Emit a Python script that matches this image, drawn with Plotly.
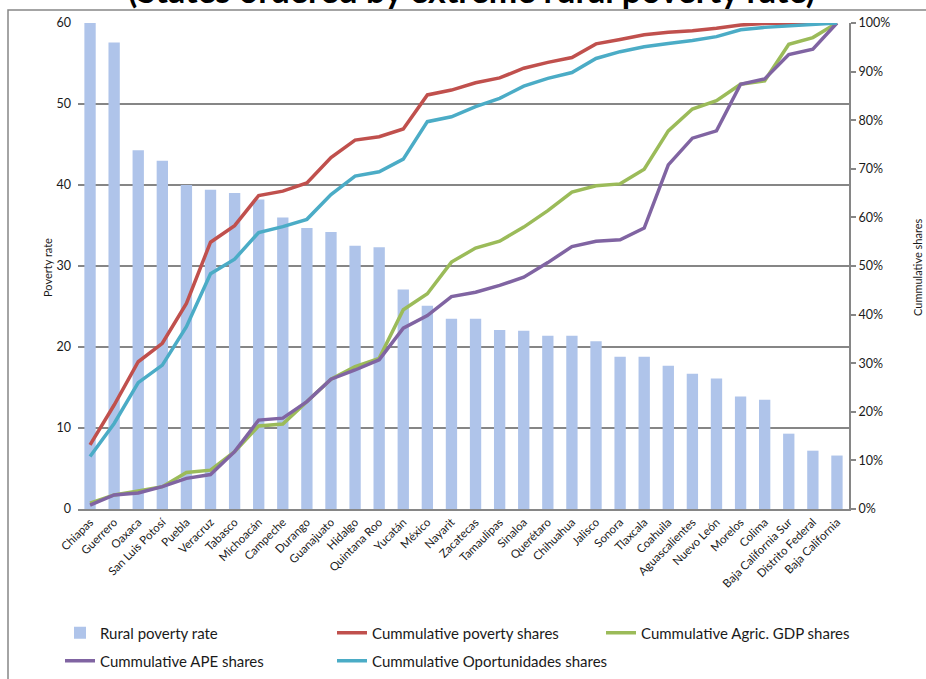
import plotly.graph_objects as go

states = ["Chiapas", "Guerrero", "Oaxaca", "San Luis Potosí", "Puebla", "Veracruz",
          "Tabasco", "Michoacán", "Campeche", "Durango", "Guanajuato", "Hidalgo",
          "Quintana Roo", "Yucatán", "México", "Nayarit", "Zacatecas", "Tamaulipas",
          "Sinaloa", "Querétaro", "Chihuahua", "Jalisco", "Sonora", "Tlaxcala",
          "Coahuila", "Aguascalientes", "Nuevo León", "Morelos", "Colima",
          "Baja California Sur", "Distrito Federal", "Baja California"]

rural_poverty = [60.0, 57.6, 44.3, 43.0, 40.0, 39.4, 39.0, 38.2, 36.0, 34.7, 34.2, 32.5,
                 32.3, 27.1, 25.1, 23.5, 23.5, 22.1, 22.0, 21.4, 21.4, 20.7, 18.8, 18.8,
                 17.7, 16.7, 16.1, 13.9, 13.5, 9.3, 7.2, 6.6]

poverty_cum = [13.2, 21.4, 30.3, 34.1, 42.3, 54.9, 58.3, 64.5, 65.4, 67.1, 72.3, 75.9,
               76.6, 78.2, 85.2, 86.2, 87.7, 88.7, 90.7, 91.9, 92.9, 95.7, 96.6, 97.6,
               98.1, 98.4, 98.9, 99.6, 99.9, 100.0, 100.0, 100.0]

agric_cum = [1.2, 2.9, 3.7, 4.6, 7.5, 8.0, 11.8, 17.1, 17.5, 22.1, 26.7, 29.3,
             31.0, 41.0, 44.3, 50.8, 53.7, 55.1, 58.0, 61.4, 65.2, 66.5, 66.9, 69.9,
             77.8, 82.3, 84.0, 87.4, 88.1, 95.6, 97.0, 100.0]

ape_cum = [0.8, 2.9, 3.3, 4.6, 6.3, 7.1, 11.8, 18.3, 18.7, 22.1, 26.7, 28.6,
           30.7, 37.2, 39.8, 43.7, 44.6, 46.0, 47.7, 50.7, 54.0, 55.1, 55.4, 57.8,
           70.8, 76.3, 77.8, 87.4, 88.5, 93.5, 94.6, 100.0]

oport_cum = [10.8, 17.6, 26.0, 29.6, 37.5, 48.4, 51.4, 56.9, 58.1, 59.6, 64.7, 68.5,
             69.4, 72.0, 79.7, 80.7, 82.8, 84.5, 87.0, 88.6, 89.8, 92.7, 94.1, 95.1,
             95.8, 96.4, 97.2, 98.6, 99.1, 99.4, 99.6, 100.0]

left_ticks = [0, 10, 20, 30, 40, 50, 60]
right_ticks = [0, 10, 20, 30, 40, 50, 60, 70, 80, 90, 100]
right_labels = [f"{v}%" for v in right_ticks]

FONT = "Lato"
GRID = "#868686"
TXT = "#1a1a1a"
W, H = 926, 679

fig = go.Figure()
fig.add_trace(go.Bar(x=states, y=rural_poverty, name="Rural poverty rate",
                     marker=dict(color="#AFC4EA", line=dict(width=0)),
                     width=0.47, legend="legend"))

lines = [
    ("Cummulative poverty shares", poverty_cum, "#C0504D", "legend2"),
    ("Cummulative Agric. GDP shares", agric_cum, "#9BBB59", "legend3"),
    ("Cummulative APE shares", ape_cum, "#8064A2", "legend4"),
    ("Cummulative Oportunidades shares", oport_cum, "#4BACC6", "legend5"),
]
for name, vals, col, lg in lines:
    fig.add_trace(go.Scatter(x=states, y=vals, name=name, mode="lines",
                             line=dict(color=col, width=3.5), yaxis="y2", legend=lg))


def legend_at(px, py):
    return dict(orientation="h", xref="container", yref="container",
                x=px / W, xanchor="left", y=1 - py / H, yanchor="middle",
                font=dict(size=15, family=FONT, color=TXT), bgcolor="rgba(0,0,0,0)")


fig.update_layout(
    width=W, height=H,
    margin=dict(l=78, r=77, t=23, b=170, autoexpand=False),
    paper_bgcolor="white", plot_bgcolor="white",
    font=dict(family=FONT, color=TXT, size=12),
    xaxis=dict(type="category", range=[-0.5, 31.5], tickangle=-45,
               showline=True, linecolor=GRID, linewidth=2, showgrid=False,
               ticks="", tickfont=dict(size=11.5, family=FONT), automargin=False),
    yaxis=dict(range=[0, 60], tickvals=left_ticks, showgrid=True, gridcolor=GRID,
               gridwidth=1.5, zeroline=False, showline=False, ticks="",
               tickfont=dict(size=12.5, family=FONT), automargin=False, ticklabelstandoff=6),
    yaxis2=dict(range=[0, 100], tickvals=right_ticks, ticktext=right_labels,
                overlaying="y", side="right", showgrid=False, zeroline=False,
                showline=True, linecolor=GRID, linewidth=2, ticks="outside", ticklen=5,
                tickcolor=GRID, tickwidth=1.5,
                tickfont=dict(size=12.5, family=FONT), automargin=False),
    legend=legend_at(60, 633),
    legend2=legend_at(332, 633),
    legend3=legend_at(601, 633),
    legend4=legend_at(60, 661),
    legend5=legend_at(332, 661),
    showlegend=True,
)

fig.add_shape(type="rect", xref="paper", yref="paper",
              x0=(8 - 78) / 771, x1=1.3, y0=-0.5, y1=(509 - 10) / 486,
              line=dict(color=GRID, width=1.5), layer="above")

fig.add_annotation(text="<b>(States ordered by extreme rural poverty rate)</b>",
                   xref="paper", yref="paper", x=(472 - 78) / 771, y=(509 - 12) / 486,
                   xanchor="center", yanchor="bottom", showarrow=False,
                   font=dict(size=34, family=FONT, color="black"))

fig.add_annotation(text="Poverty rate", xref="paper", yref="paper",
                   x=(47 - 78) / 771, y=(509 - 268) / 486, textangle=-90,
                   xanchor="center", yanchor="middle",
                   showarrow=False, font=dict(size=11, family=FONT, color=TXT))
fig.add_annotation(text="Cummulative shares", xref="paper", yref="paper",
                   x=(917 - 78) / 771, y=(509 - 267) / 486, textangle=-90,
                   xanchor="center", yanchor="middle",
                   showarrow=False, font=dict(size=11, family=FONT, color=TXT))

fig.write_html("out.html", post_script="document.body.style.margin='0px';",
               config={"displayModeBar": False})
